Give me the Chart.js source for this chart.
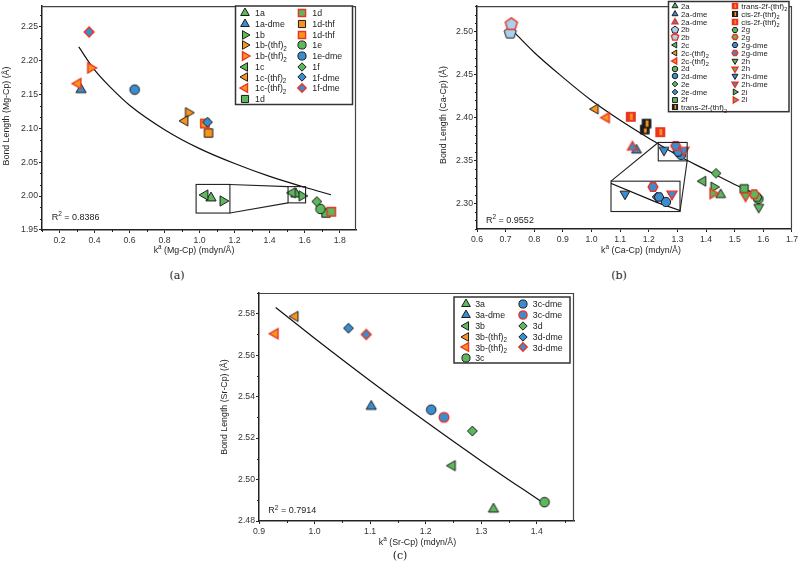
<!DOCTYPE html>
<html><head><meta charset="utf-8">
<script src="https://cdn.jsdelivr.net/npm/chart.js@4.4.1/dist/chart.umd.min.js"></script>
<style>
html,body{margin:0;padding:0;background:#fff;}
body{width:800px;height:574px;position:relative;overflow:hidden;}
canvas{position:absolute;}
.cap{position:absolute;font-family:"DejaVu Serif","Liberation Serif",serif;font-size:11px;color:#222;transform:translateX(-50%);line-height:1;}
</style></head><body>
<canvas id="ca" width="362" height="262" style="left:0;top:0"></canvas>
<canvas id="cb" width="400" height="262" style="left:400px;top:0"></canvas>
<canvas id="cc" width="400" height="275" style="left:200px;top:280px"></canvas>
<div class="cap" style="left:177px;top:270px">(a)</div>
<div class="cap" style="left:619px;top:270px">(b)</div>
<div class="cap" style="left:400px;top:550px">(c)</div>
<script>
// ================= DATA =================
// (a) Mg
const mgLabels = ['1a','1a-dme','1b','1b-(thf)₂','1b-(thf)₂','1c','1c-(thf)₂','1c-(thf)₂','1d',
                  '1d','1d-thf','1d-thf','1e','1e-dme','1f','1f-dme','1f-dme'];
const mgK    = [1.550, 0.323, 1.584, 0.936, 0.378, 1.530, 0.916, 0.305, 1.722,
                1.752, 1.051, 1.030, 1.690, 0.629, 1.669, 1.045, 0.369];
const mgBond = [2.003, 2.157, 2.0004, 2.123, 2.189, 2.005, 2.111, 2.166, 1.975,
                1.977, 2.093, 2.107, 1.981, 2.157, 1.992, 2.109, 2.242];
const mgFitK    = [0.31, 0.40, 0.50, 0.60, 0.80, 1.00, 1.20, 1.40, 1.60, 1.75];
const mgFitBond = [2.220, 2.186, 2.158, 2.134, 2.098, 2.070, 2.048, 2.029, 2.013, 2.002];
const mgXTicks = {min:0.1, max:1.893, step:0.2};
const mgYTicks = {min:1.95, max:2.28, step:0.05};
const mgText = {x:'kᵃ (Mg-Cp) (mdyn/Å)', y:'Bond Length (Mg-Cp) (Å)', r2:'R² = 0.8386'};

// (b) Ca
const caLabels = ['2a','2a-dme','2a-dme','2b','2b','2c','2c-(thf)₂','2c-(thf)₂','2d','2d-dme','2e','2e-dme','2f','trans-2f-(thf)₂',
                  'trans-2f-(thf)₂','cis-2f-(thf)₂','cis-2f-(thf)₂','2g','2g','2g-dme','2g-dme','2h','2h','2h-dme','2h-dme','2i','2i'];
const caK    = [1.451, 1.157, 1.143, 0.716, 0.720, 1.389, 1.013, 1.052, 1.583, 1.313, 1.435, 1.300, 1.533, 1.186,
                1.137, 1.192, 1.240, 1.578, 1.568, 1.303, 1.294, 1.584, 1.538, 1.253, 1.323, 1.427, 1.424];
const caBond = [2.310, 2.362, 2.3655, 2.499, 2.509, 2.3258, 2.410, 2.400, 2.305, 2.3563, 2.335, 2.360, 2.317, 2.386,
                2.401, 2.393, 2.383, 2.307, 2.3106, 2.360, 2.367, 2.2954, 2.3087, 2.362, 2.362, 2.319, 2.3114];
const caFitK    = [0.72, 0.80, 0.90, 1.00, 1.10, 1.20, 1.30, 1.40, 1.50, 1.58];
const caFitBond = [2.503, 2.476, 2.447, 2.420, 2.397, 2.376, 2.356, 2.339, 2.322, 2.310];
const caXTicks = {min:0.6, max:1.7, step:0.1};
const caYTicks = {min:2.27, max:2.53, step:0.05};
const caText = {x:'kᵃ (Ca-Cp) (mdyn/Å)', y:'Bond Length (Ca-Cp) (Å)', r2:'R² = 0.9552'};

// (c) Sr
const srLabels = ['3a','3a-dme','3b','3b-(thf)₂','3b-(thf)₂','3c',
                  '3c-dme','3c-dme','3d','3d-dme','3d-dme'];
const srK    = [1.322, 1.102, 1.248, 0.965, 0.929, 1.414, 1.210, 1.233, 1.284, 1.061, 1.093];
const srBond = [2.4857, 2.5353, 2.5067, 2.5787, 2.5704, 2.4891, 2.5337, 2.5300, 2.5234, 2.5730, 2.5700];
const srFitK    = [0.93, 1.00, 1.10, 1.20, 1.30, 1.41];
const srFitBond = [2.583, 2.5682, 2.5477, 2.528, 2.509, 2.489];
const srXTicks = {min:0.9, max:1.467, step:0.1};
const srYTicks = {min:2.48, max:2.59, step:0.02};
const srText = {x:'kᵃ (Sr-Cp) (mdyn/Å)', y:'Bond Length (Sr-Cp) (Å)', r2:'R² = 0.7914'};

// ================= STYLES =================
const FF = '"Liberation Sans", Arial, Helvetica, sans-serif';
const G='#5cb85c', B='#3b8dd0', O='#f7941d', R='#ec3323', P='#a9d0ee', K='#1c1c1c';
const mgShape = ['tri','tri','triR','triR','triR','triL','triL','triL','sq','sq','sq','sq','circ','circ','diam','diam','diam'];
const mgFill  = [G,B,G,O,O,G,O,O,G,G,O,O,G,B,G,B,B];
const mgEdge  = [K,K,K,K,R,K,K,R,K,R,K,R,K,K,K,K,R];
const caShape = ['tri','tri','tri','pent','pent','triL','triL','triL','circ','circ','diam','diam','sq','split',
                 'split','split','split','hex','hex','hex','hex','triD','triD','triD','triD','triR','triR'];
const caFill  = [G,B,B,P,P,G,O,O,G,B,G,B,G,O,O,O,O,G,G,B,B,G,G,B,B,G,G];
const caEdge  = [K,K,R,K,R,K,K,R,K,K,K,K,K,K,R,K,R,K,R,K,R,K,R,K,R,K,R];
const srShape = ['tri','tri','triL','triL','triL','circ','circ','circ','diam','diam','diam'];
const srFill  = [G,B,G,O,O,G,B,B,G,B,B];
const srEdge  = [K,K,K,K,R,K,K,R,K,K,R];

function marker(shape, fill, edge, scale){
  const base = {tri:5.9,triR:5.9,triL:5.9,triD:5.9,circ:4.8,sq:4.2,diam:4.9,pent:6.6,hex:5.0,split:4.4}[shape];
  const s = base*scale;
  const lw = edge===R ? 1.4 : 1.0;
  const size = 2*Math.ceil(s + lw + 2);
  const c = document.createElement('canvas'); c.width=size; c.height=size;
  const g = c.getContext('2d'); const cx=size/2, cy=size/2;
  g.lineWidth=lw; g.strokeStyle=edge; g.fillStyle=fill; g.lineJoin='miter'; g.miterLimit=4;
  const poly=(n,rot)=>{g.beginPath();for(let i=0;i<n;i++){const a=rot+i*2*Math.PI/n;const x=cx+s*Math.cos(a),y=cy+s*Math.sin(a);if(i)g.lineTo(x,y);else g.moveTo(x,y);}g.closePath();};
  if(shape==='split'){
    g.fillStyle=edge; g.fillRect(cx-s,cy-s,2*s,2*s);
    g.fillStyle=fill; g.fillRect(cx-0.2*s,cy-0.75*s,0.65*s,1.5*s);
    g.strokeRect(cx-s,cy-s,2*s,2*s);
    return c;
  }
  switch(shape){
    case 'tri': poly(3,-Math.PI/2); break;
    case 'triR': poly(3,0); break;
    case 'triL': poly(3,Math.PI); break;
    case 'triD': poly(3,Math.PI/2); break;
    case 'diam': poly(4,-Math.PI/2); break;
    case 'pent': poly(5,-Math.PI/2); break;
    case 'hex': poly(6,0); break;
    case 'circ': g.beginPath(); g.arc(cx,cy,s,0,2*Math.PI); break;
    case 'sq': g.beginPath(); g.rect(cx-s,cy-s,2*s,2*s); break;
  }
  g.fill(); g.stroke();
  return c;
}

function drawRich(ctx, str, x, y, px, align, color){
  const segs=[];
  for(const ch of str){
    let mode='n', t=ch;
    if(ch==='₂'){mode='sub';t='2';} else if(ch==='²'){mode='sup';t='2';} else if(ch==='ᵃ'){mode='sup';t='a';}
    if(segs.length && segs[segs.length-1].mode===mode) segs[segs.length-1].t+=t; else segs.push({t,mode});
  }
  const small=px*0.72; let w=0;
  for(const sg of segs){ctx.font=(sg.mode==='n'?px:small)+'px '+FF; sg.w=ctx.measureText(sg.t).width; w+=sg.w;}
  let cx = align==='center'? x-w/2 : (align==='right'? x-w : x);
  ctx.textAlign='left'; ctx.textBaseline='alphabetic'; ctx.fillStyle=color;
  for(const sg of segs){
    ctx.font=(sg.mode==='n'?px:small)+'px '+FF;
    const dy = sg.mode==='sub'? px*0.3 : (sg.mode==='sup'? -px*0.42 : 0);
    ctx.fillText(sg.t, cx, y+dy); cx+=sg.w;
  }
}

const DECO = {};
function minorTicks(ctx, scale, step, n, horiz, a){
  if(!n || n<2) return;
  const m0 = Math.floor(scale.min/step - 1e-9)*step;
  ctx.beginPath();
  for(let m=m0; m<=scale.max+1e-9; m+=step){
    for(let k=1;k<n;k++){
      const v=m+k*step/n; if(v<scale.min-1e-9||v>scale.max+1e-9) continue;
      const p=Math.round(scale.getPixelForValue(v))+0.5;
      if(horiz){ctx.moveTo(p,a.bottom);ctx.lineTo(p,a.bottom+2);} else {ctx.moveTo(a.left,p);ctx.lineTo(a.left-2,p);}
    }
  }
  ctx.stroke();
}

const decoPlugin = {
  id:'deco',
  beforeDatasetsDraw(chart){
    const ctx=chart.ctx, a=chart.chartArea;
    ctx.save(); ctx.strokeStyle='#444'; ctx.lineWidth=1.2;
    ctx.beginPath(); ctx.moveTo(a.left,a.top+0.5); ctx.lineTo(a.right-0.5,a.top+0.5); ctx.lineTo(a.right-0.5,a.bottom); ctx.stroke();
    ctx.restore();
  },
  afterDatasetsDraw(chart){
    const D0=DECO[chart.canvas.id], I=D0.inset; if(!I) return;
    const ctx=chart.ctx, xs=chart.scales.x, ys=chart.scales.y;
    const px=v=>xs.getPixelForValue(v), py=v=>ys.getPixelForValue(v);
    const S={l:px(I.src[0]),r:px(I.src[1]),b:py(I.src[2]),t:py(I.src[3])};
    const D={l:px(I.dst[0]),r:px(I.dst[1]),b:py(I.dst[2]),t:py(I.dst[3])};
    const mx=v=>D.l+(px(v)-S.l)/(S.r-S.l)*(D.r-D.l);
    const my=v=>D.t+(py(v)-S.t)/(S.b-S.t)*(D.b-D.t);
    const corner=(name)=>{const R0=name[0]==='d'?D:S; return [name[2]==='l'?R0.l:R0.r, name[1]==='t'?R0.t:R0.b];};
    ctx.save();
    ctx.fillStyle='#fff'; ctx.fillRect(D.l,D.t,D.r-D.l,D.b-D.t);
    ctx.strokeStyle='#222'; ctx.lineWidth=1.1;
    ctx.strokeRect(D.l,D.t,D.r-D.l,D.b-D.t);
    ctx.strokeRect(S.l,S.t,S.r-S.l,S.b-S.t);
    ctx.beginPath();
    for(const [p,q] of I.links){const A=corner(p),Bc=corner(q);ctx.moveTo(A[0],A[1]);ctx.lineTo(Bc[0],Bc[1]);}
    ctx.stroke();
    ctx.save(); ctx.beginPath(); ctx.rect(D.l,D.t,D.r-D.l,D.b-D.t); ctx.clip();
    if(I.fit){
      ctx.beginPath(); ctx.strokeStyle='#111'; ctx.lineWidth=1.2;
      D0.fitK.forEach((x,i)=>{const X=mx(x),Y=my(D0.fitBond[i]); if(i) ctx.lineTo(X,Y); else ctx.moveTo(X,Y);});
      ctx.stroke();
    }
    D0.k.forEach((x,i)=>{
      const y=D0.bond[i];
      if(x>=I.src[0]&&x<=I.src[1]&&y>=I.src[2]&&y<=I.src[3]){
        const img=D0.plotImgs[i]; ctx.drawImage(img, Math.round(mx(x)-img.width/2), Math.round(my(y)-img.height/2));
      }
    });
    ctx.restore();
    ctx.restore();
  },
  afterDraw(chart){
    const D0=DECO[chart.canvas.id]; const ctx=chart.ctx, a=chart.chartArea;
    ctx.save();
    ctx.strokeStyle='#222'; ctx.lineWidth=1;
    minorTicks(ctx, chart.scales.y, D0.yT.step, D0.yMinorN, false, a);
    minorTicks(ctx, chart.scales.x, D0.xT.step, D0.xMinorN, true, a);
    drawRich(ctx, D0.text.x, D0.xTitlePos[0], D0.xTitlePos[1], 8.8, 'center', '#222');
    ctx.save(); ctx.translate(D0.yTitlePos[0], D0.yTitlePos[1]); ctx.rotate(-Math.PI/2);
    drawRich(ctx, D0.text.y, 0, 0, 8.8, 'center', '#222'); ctx.restore();
    drawRich(ctx, D0.text.r2, D0.r2Pos[0], D0.r2Pos[1], 9, 'left', '#222');
    const L=D0.legend;
    ctx.fillStyle='#fff'; ctx.fillRect(L.box[0],L.box[1],L.box[2],L.box[3]);
    ctx.strokeStyle='#333'; ctx.lineWidth=1.5; ctx.strokeRect(L.box[0],L.box[1],L.box[2],L.box[3]);
    D0.labels.forEach((lab,i)=>{
      const col=i<L.split?0:1, row=col?i-L.split:i;
      const x=L.colX[col], y=L.y0+row*L.dy; const img=D0.legendImgs[i];
      ctx.drawImage(img, Math.round(x-img.width/2), Math.round(y-img.height/2));
      drawRich(ctx, lab, x+L.textOff, y+L.font*0.36, L.font, 'left', '#222');
    });
    ctx.restore();
  }
};

function build(id, D0){
  D0.plotImgs = D0.labels.map((_,i)=>marker(D0.shape[i],D0.fill[i],D0.edge[i],D0.scale));
  D0.legendImgs = D0.labels.map((_,i)=>marker(D0.shape[i],D0.fill[i],D0.edge[i],D0.legendScale));
  DECO[id]=D0;
  const datasets = D0.labels.map((lab,i)=>({
    type:'scatter', label:lab, data:[{x:D0.k[i], y:D0.bond[i]}],
    pointStyle:D0.plotImgs[i], pointRadius:5, pointHoverRadius:5, order:-i, clip:false
  }));
  datasets.push({type:'scatter', label:'fit', showLine:true, data:D0.fitK.map((x,i)=>({x, y:D0.fitBond[i]})),
    borderColor:'#111', borderWidth:1.2, pointRadius:0, fill:false, cubicInterpolationMode:'monotone', order:1000});
  const tickFont={family:FF, size:8.7};
  new Chart(document.getElementById(id), {
    type:'scatter',
    data:{datasets},
    options:{
      responsive:false, animation:false, events:[],
      layout:{padding:{left:0, right:D0.pad.r, top:D0.pad.t, bottom:0}},
      plugins:{legend:{display:false}, tooltip:{enabled:false}},
      scales:{
        x:{type:'linear', position:'bottom', min:D0.xT.min, max:D0.xT.max,
           ticks:{stepSize:D0.xT.step, includeBounds:false, autoSkip:false, maxRotation:0, color:'#333', font:tickFont, padding:2,
                  callback:v=>v.toFixed(D0.xDec)},
           grid:{display:true, drawOnChartArea:false, drawTicks:true, tickLength:3, tickColor:'#222', tickWidth:1},
           border:{display:true, color:'#222', width:1.5},
           afterFit(s){s.height=D0.xH;}},
        y:{type:'linear', position:'left', min:D0.yT.min, max:D0.yT.max,
           ticks:{stepSize:D0.yT.step, includeBounds:false, autoSkip:false, color:'#333', font:tickFont, padding:1,
                  callback:v=>v.toFixed(2)},
           grid:{display:true, drawOnChartArea:false, drawTicks:true, tickLength:3, tickColor:'#222', tickWidth:1},
           border:{display:true, color:'#222', width:1.5},
           afterFit(s){s.width=D0.yW;}}
      }
    },
    plugins:[decoPlugin]
  });
}

build('ca', {labels:mgLabels, k:mgK, bond:mgBond, fitK:mgFitK, fitBond:mgFitBond,
  shape:mgShape, fill:mgFill, edge:mgEdge, scale:1.0, legendScale:0.85,
  xT:mgXTicks, yT:mgYTicks, xDec:1, xMinorN:2, yMinorN:3,
  pad:{r:5,t:2}, yW:42, xH:32, text:mgText,
  xTitlePos:[194,253], yTitlePos:[9,116], r2Pos:[51.7,219.5],
  legend:{box:[235.5,6,117,98.5], colX:[245,302.3], textOff:10, y0:13.2, dy:10.7, split:9, font:8.8},
  inset:{src:[1.505,1.605,1.990,2.014], dst:[0.98,1.173,1.975,2.0172], links:[['dtr','stl'],['dbr','sbl']], fit:false}
});
build('cb', {labels:caLabels, k:caK, bond:caBond, fitK:caFitK, fitBond:caFitBond,
  shape:caShape, fill:caFill, edge:caEdge, scale:0.97, legendScale:0.58,
  xT:caXTicks, yT:caYTicks, xDec:1, xMinorN:0, yMinorN:5,
  pad:{r:7,t:2}, yW:77, xH:33, text:caText,
  xTitlePos:[241,253], yTitlePos:[45.5,115], r2Pos:[86,222.5],
  legend:{box:[268.5,1.5,120.5,110.2], colX:[274.7,335], textOff:6.3, y0:6.2, dy:7.79, split:14, font:7.8},
  inset:{src:[1.233,1.334,2.3495,2.371], dst:[1.068,1.309,2.2904,2.3258], links:[['dtl','stl'],['dbr','sbr']], fit:true}
});
build('cc', {labels:srLabels, k:srK, bond:srBond, fitK:srFitK, fitBond:srFitBond,
  shape:srShape, fill:srFill, edge:srEdge, scale:1.0, legendScale:0.85,
  xT:srXTicks, yT:srYTicks, xDec:1, xMinorN:2, yMinorN:2,
  pad:{r:26,t:13}, yW:59, xH:34, text:srText,
  xTitlePos:[217.5,264.5], yTitlePos:[27,127], r2Pos:[68.3,233.3],
  legend:{box:[254,17,116,66], colX:[265.7,323.3], textOff:9.5, y0:24, dy:10.85, split:6, font:8.8},
  inset:null
});
</script></body></html>
